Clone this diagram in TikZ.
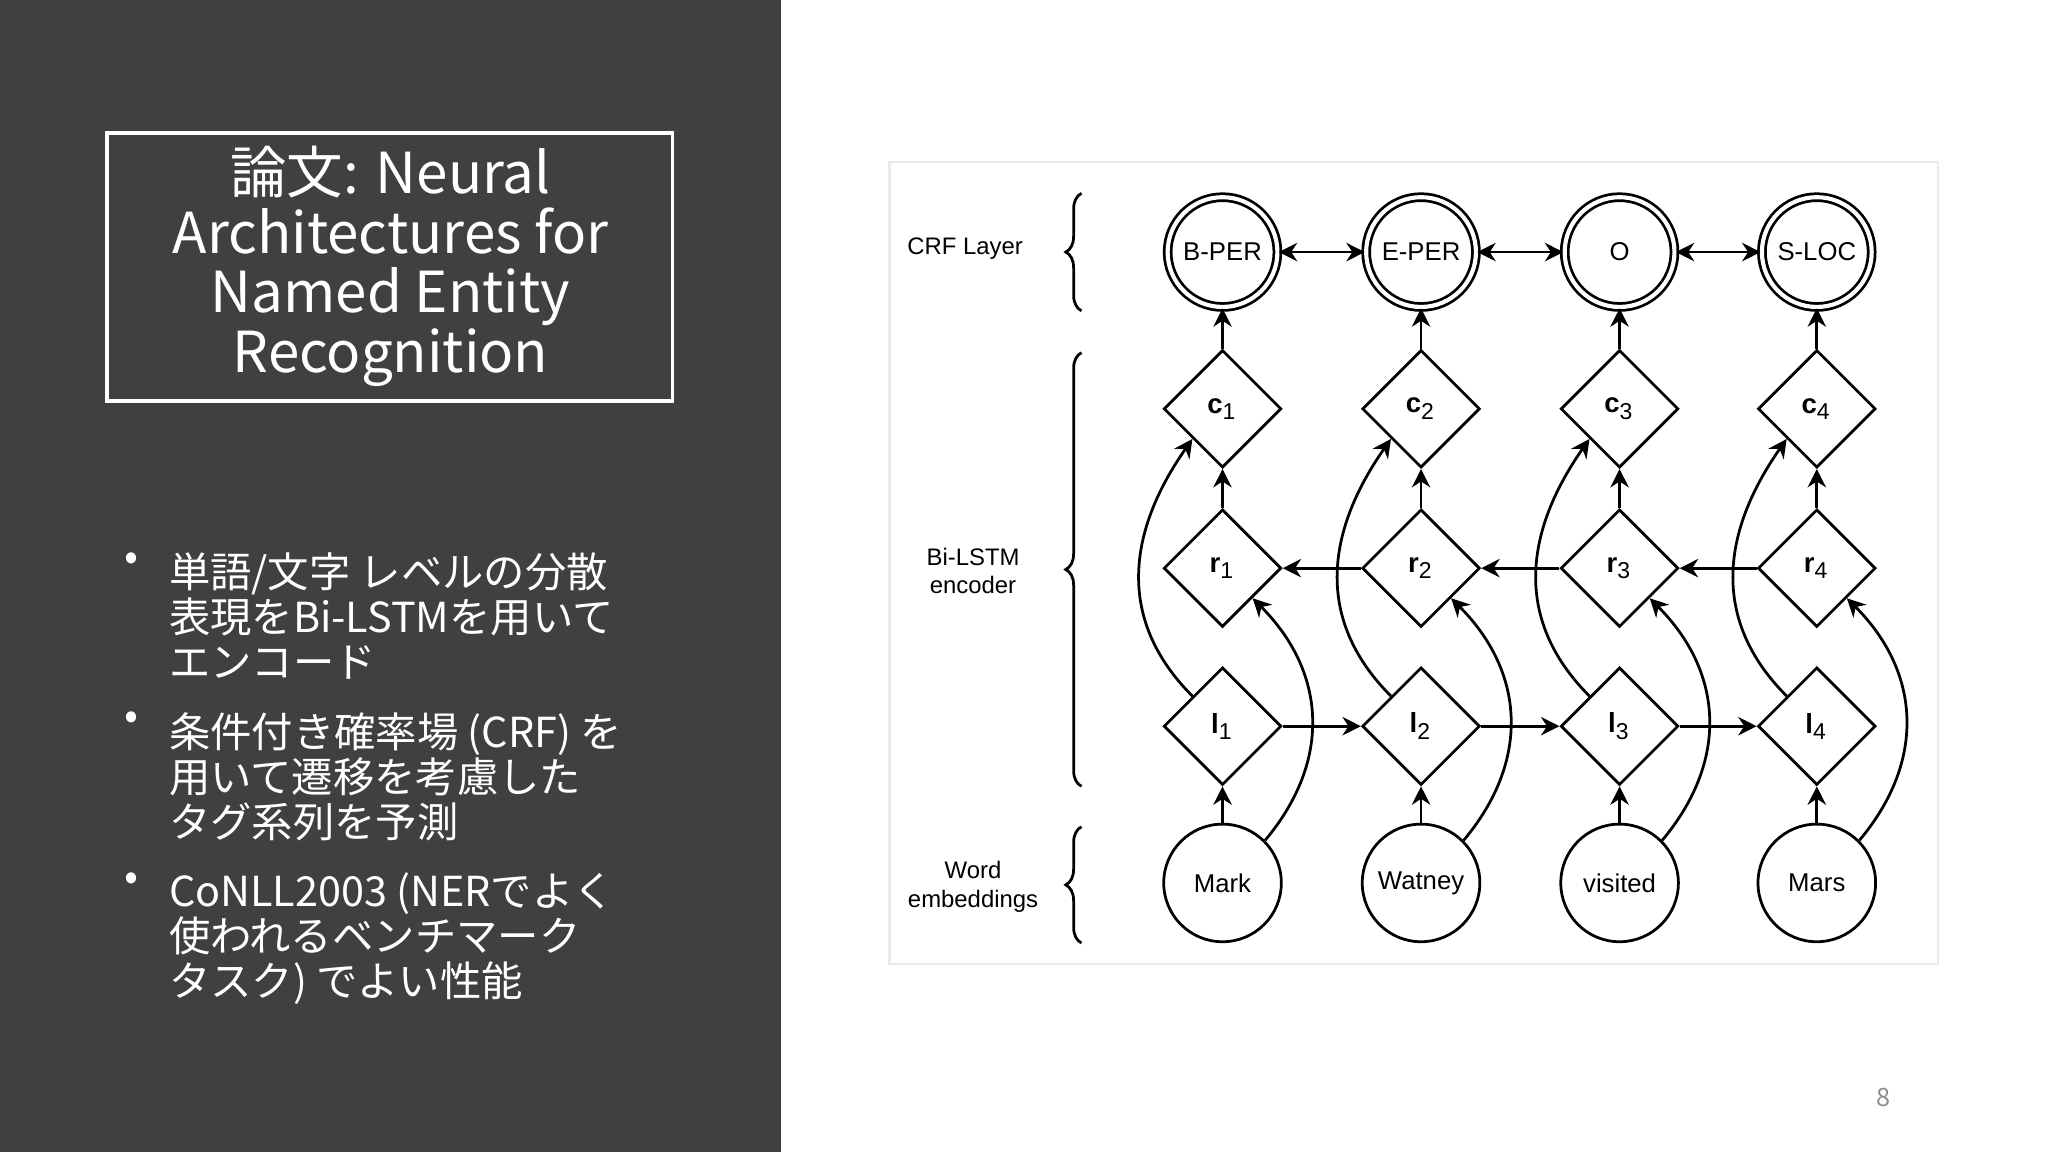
\documentclass[tikz,border=0pt]{standalone}
\usepackage{fontspec}
\setmainfont{Liberation Sans}
\newfontfamily\cjk{Noto Sans CJK JP}
\usetikzlibrary{shapes.geometric,arrows.meta,decorations.pathreplacing}
\begin{document}
\begin{tikzpicture}[x=0.01cm,y=-0.01cm,
  lw/.style={line width=0.6pt},
  arr/.style={lw,-{Stealth[length=4pt,width=4pt]}},
  darr/.style={lw,{Stealth[length=4pt,width=4pt]}-{Stealth[length=4pt,width=4pt]}},
  crf/.style={circle,draw,lw,double,double distance=0.9pt,minimum size=0.84cm,inner sep=0pt,font=\fontsize{5.6}{6}\selectfont},
  word/.style={circle,draw,lw,minimum size=0.9cm,inner sep=0pt,font=\fontsize{5.6}{6}\selectfont},
  dia/.style={diamond,draw,lw,minimum width=0.9cm,minimum height=0.9cm,inner sep=0pt,font=\fontsize{6}{7}\selectfont\bfseries},
  lab/.style={align=center,font=\fontsize{5.2}{6.2}\selectfont},
  brc/.style={lw,decorate,decoration={brace,amplitude=0.12cm}},
  bul/.style={anchor=north west,align=left,text=white,font=\cjk\fontsize{9}{9.8}\selectfont}]
\useasboundingbox (0,0) rectangle (1568,882);
\fill[white] (0,0) rectangle (1568,882);
\fill[black!75] (0,0) rectangle (598,882);
\draw[white,line width=0.8pt] (82,102) rectangle (515,307);
\node[text=white,align=center,font=\cjk\fontsize{12.3}{13}\selectfont] (title) at (299,204) {論文: Neural\\Architectures for\\Named Entity\\Recognition};
\node[text=white,font=\cjk\fontsize{9}{10}\selectfont] (b1) at (101,430) {•};
\node[text=white,font=\cjk\fontsize{9}{10}\selectfont] (b2) at (101,552) {•};
\node[text=white,font=\cjk\fontsize{9}{10}\selectfont] (b3) at (101,675) {•};
\node[bul] (t1) at (117,411) {単語/文字 レベルの分散\\表現をBi-LSTMを用いて\\エンコード};
\node[bul] (t2) at (117,533) {条件付き確率場 (CRF) を\\用いて遷移を考慮した\\タグ系列を予測};
\node[bul] (t3) at (117,656) {CoNLL2003 (NERでよく\\使われるベンチマーク\\タスク) でよい性能};
\node[text=black!45,font=\cjk\fontsize{5.5}{6}\selectfont] (pg) at (1442,840) {8};
\draw[black!8,line width=0.5pt] (681,124) rectangle (1484,738);
% labels and braces
\node[lab] (lcrf) at (739,190) {CRF Layer};
\node[lab] (llstm) at (745,437) {Bi-LSTM\\encoder};
\node[lab] (lword) at (745,679) {Word\\embeddings};
\draw[brc] (828,238) -- (828,148);
\draw[brc] (828,602) -- (828,270);
\draw[brc] (828,722) -- (828,633);
% nodes
\foreach \i/\x/\t/\w in {1/936/B-PER/Mark,2/1088/E-PER/Watney,3/1240/O/visited,4/1391/S-LOC/Mars}{
  \node[crf] (y\i) at (\x,193) {\t};
  \node[dia] (c\i) at (\x,313) {c\textsubscript{\mdseries\i}};
  \node[dia] (r\i) at (\x,435) {r\textsubscript{\mdseries\i}};
  \node[dia] (l\i) at (\x,556) {l\textsubscript{\mdseries\i}};
  \node[word] (w\i) at (\x,676) {\w};
  \draw[arr] (c\i) -- (y\i);
  \draw[arr] (r\i) -- (c\i);
  \draw[arr] (w\i) -- (l\i);
  \draw[arr] (l\i.north west) ++(0,0) to[out=135,in=235,looseness=1.1] (c\i.south west);
  \draw[arr] (w\i.north east) to[out=50,in=-45,looseness=1.1] (r\i.south east);
}
\foreach \a/\b in {1/2,2/3,3/4}{
  \draw[darr] (y\a) -- (y\b);
  \draw[arr] (l\a) -- (l\b);
  \draw[arr] (r\b) -- (r\a);
}
\end{tikzpicture}
\end{document}
